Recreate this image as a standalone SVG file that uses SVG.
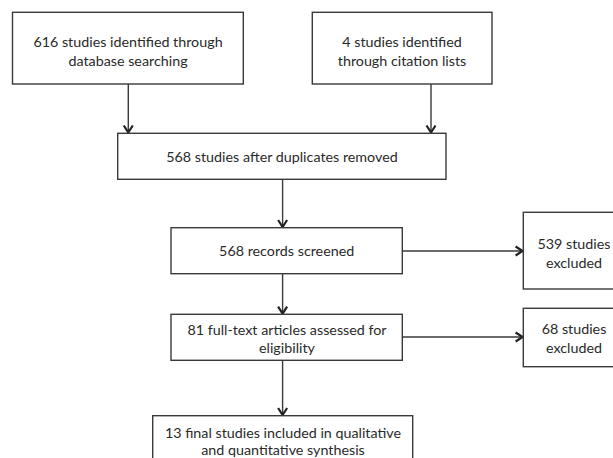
<svg xmlns="http://www.w3.org/2000/svg" width="613" height="458" viewBox="0 0 613 458">
<style>
  .box { fill: #ffffff; stroke: #3a3a3a; stroke-width: 1.4; }
  .t { font-family: Lato, "Open Sans", "Liberation Sans", sans-serif; font-size: 14.3px; fill: #2a2a2a; text-anchor: middle; }
  .c { stroke: #3a3a3a; stroke-width: 1.4; fill: none; marker-end: url(#arr); }
</style>
<defs>
  <marker id="arr" markerUnits="userSpaceOnUse" markerWidth="12" markerHeight="12" viewBox="-10 -6 12 12" refX="0" refY="0" orient="auto">
    <path d="M-7,-4.5 L0,0 L-7,4.5" fill="none" stroke="#222222" stroke-width="2.2" stroke-linejoin="miter"/>
  </marker>
</defs>
<rect width="613" height="458" fill="#ffffff"/>
<g id="connectors">
  <line class="c" x1="128.3" y1="84" x2="128.3" y2="132.5"/>
  <line class="c" x1="431" y1="84" x2="431" y2="132.5"/>
  <line class="c" x1="282.6" y1="179.3" x2="282.6" y2="227"/>
  <line class="c" x1="282.6" y1="273.7" x2="282.6" y2="313.6"/>
  <line class="c" x1="282.6" y1="360.3" x2="282.6" y2="415"/>
  <line class="c" x1="402.3" y1="251" x2="522.6" y2="251"/>
  <line class="c" x1="402.3" y1="337" x2="522.6" y2="337"/>
</g>
<g id="n1">
  <rect class="box" x="12.5" y="12.3" width="230.8" height="71.7"/>
  <text class="t" x="128" y="46.5">616 studies identified through</text>
  <text class="t" x="128" y="65.5">database searching</text>
</g>
<g id="n2">
  <rect class="box" x="312.3" y="12.3" width="179.7" height="71.7"/>
  <text class="t" x="402" y="46.5">4 studies identified</text>
  <text class="t" x="402" y="65.5">through citation lists</text>
</g>
<g id="n3">
  <rect class="box" x="117.7" y="133.3" width="328.3" height="46"/>
  <text class="t" x="282" y="161.5">568 studies after duplicates removed</text>
</g>
<g id="n4">
  <rect class="box" x="171" y="227.7" width="231.3" height="46"/>
  <text class="t" x="286.7" y="256">568 records screened</text>
</g>
<g id="n5">
  <rect class="box" x="523.3" y="212.3" width="100.7" height="76.7"/>
  <text class="t" x="574" y="248.5">539 studies</text>
  <text class="t" x="574" y="267.5">excluded</text>
</g>
<g id="n6">
  <rect class="box" x="171" y="314.3" width="231.3" height="46"/>
  <text class="t" x="287" y="334.5">81 full-text articles assessed for</text>
  <text class="t" x="287" y="353">eligibility</text>
</g>
<g id="n7">
  <rect class="box" x="523.3" y="308.3" width="100.7" height="58.4"/>
  <text class="t" x="574" y="334">68 studies</text>
  <text class="t" x="574" y="352.5">excluded</text>
</g>
<g id="n8">
  <rect class="box" x="152.7" y="415.7" width="260" height="60"/>
  <text class="t" x="283" y="437.5">13 final studies included in qualitative</text>
  <text class="t" x="283" y="455">and quantitative synthesis</text>
</g>
</svg>
